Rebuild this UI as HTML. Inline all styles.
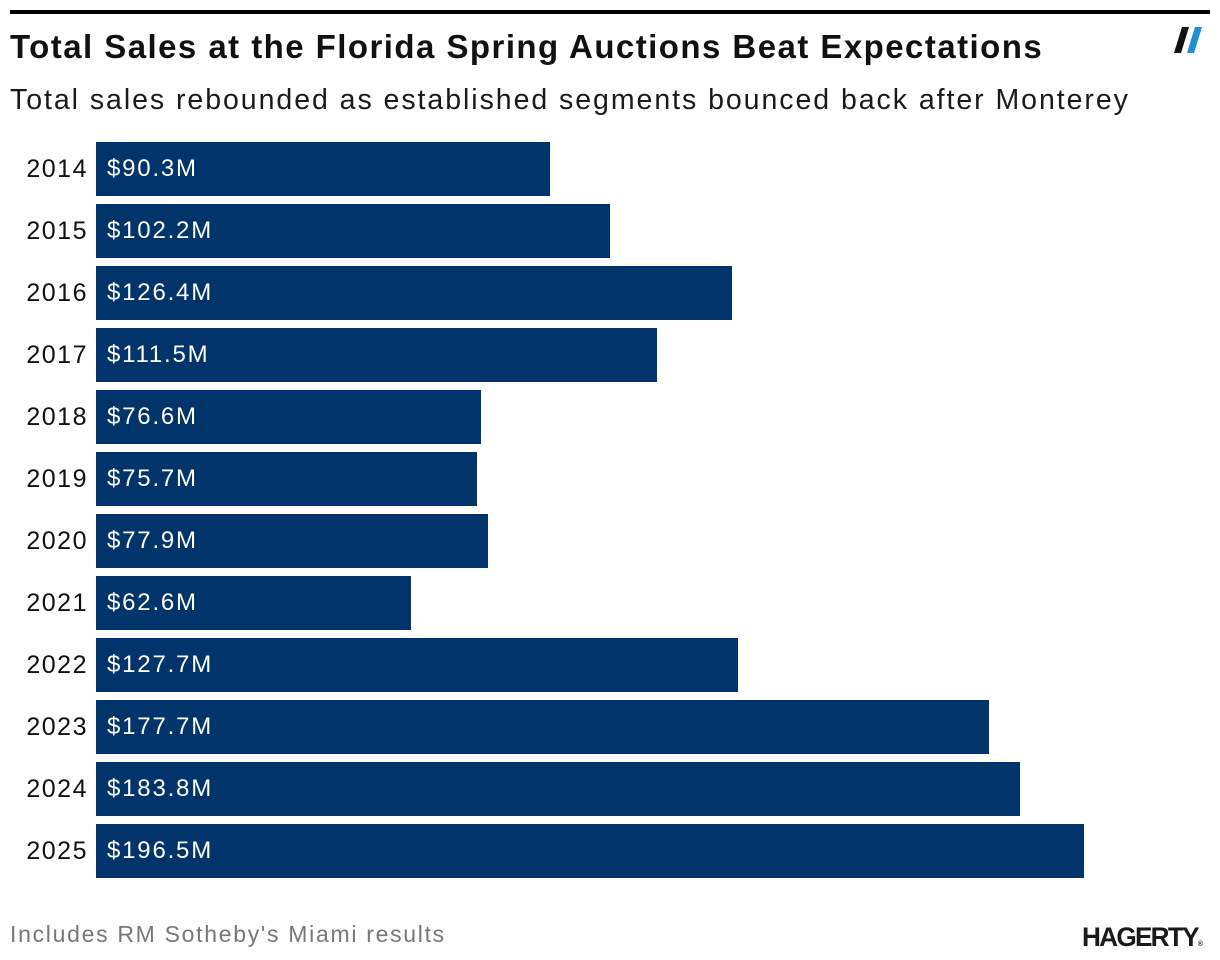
<!DOCTYPE html>
<html><head><meta charset="utf-8">
<style>
html,body{margin:0;padding:0;background:#fff;}
body{width:1220px;height:960px;position:relative;overflow:hidden;font-family:"Liberation Sans",sans-serif;}
.abs{position:absolute;}
#topline{left:10px;top:10px;width:1200px;height:4px;background:#000;}
#title{left:10px;top:28px;font-size:33px;font-weight:bold;color:#111;letter-spacing:1.45px;white-space:nowrap;}
#subtitle{left:10px;top:84px;font-size:28.5px;color:#1a1a1a;letter-spacing:1.95px;white-space:nowrap;}
.ylab{position:absolute;width:88px;text-align:right;font-size:25px;color:#111;letter-spacing:1.5px;}
.bar{position:absolute;background:#00346a;}
.val{position:absolute;color:#fff;font-size:24px;letter-spacing:1.8px;}
#note{left:10px;top:921px;font-size:23px;color:#777;letter-spacing:1.7px;white-space:nowrap;}
#logo{left:1082px;top:922px;font-size:27px;font-weight:bold;color:#1a1a1a;letter-spacing:-1.8px;transform:scaleX(0.97);transform-origin:left top;white-space:nowrap;}
</style></head>
<body>
<div id="topline" class="abs"></div>
<div id="title" class="abs">Total Sales at the Florida Spring Auctions Beat Expectations</div>
<svg class="abs" style="left:1174px;top:27px" width="36" height="28">
<polygon points="8,0 15,0 7,26 0,26" fill="#111"/>
<polygon points="21,0 28,0 20,26 13,26" fill="#1e8fd0"/>
</svg>
<div id="subtitle" class="abs">Total sales rebounded as established segments bounced back after Monterey</div>
<div id="chart"></div>
<div id="note" class="abs">Includes RM Sotheby's Miami results</div>
<div id="logo" class="abs">HAGERTY<span style="font-size:7px">®</span></div>
<script>
const years = ["2014","2015","2016","2017","2018","2019","2020","2021","2022","2023","2024","2025"];
const values = [90.3,102.2,126.4,111.5,76.6,75.7,77.9,62.6,127.7,177.7,183.8,196.5];
const labels = ["$90.3M","$102.2M","$126.4M","$111.5M","$76.6M","$75.7M","$77.9M","$62.6M","$127.7M","$177.7M","$183.8M","$196.5M"];
const x0 = 96, pxPerUnit = (1084-96)/196.5;
function xScale(v){ return v*pxPerUnit; }
function yScale(i){ return 142 + i*62; }
const barH = 54;
const chart = document.getElementById('chart');
years.forEach((y,i)=>{
  const top = yScale(i);
  const yl = document.createElement('div');
  yl.className='ylab';
  
  
  yl.style.left='0px'; yl.style.top=(top+13)+'px';
  yl.textContent=y;
  chart.appendChild(yl);
  const b = document.createElement('div');
  b.className='bar';
  
  
  b.style.left=x0+'px'; b.style.top=top+'px';
  b.style.width=xScale(values[i])+'px'; b.style.height=barH+'px';
  chart.appendChild(b);
  const v = document.createElement('div');
  v.className='val';
  
  
  v.style.left=(x0+11)+'px'; v.style.top=(top+13)+'px';
  v.textContent=labels[i];
  chart.appendChild(v);
});
</script>
</body></html>
